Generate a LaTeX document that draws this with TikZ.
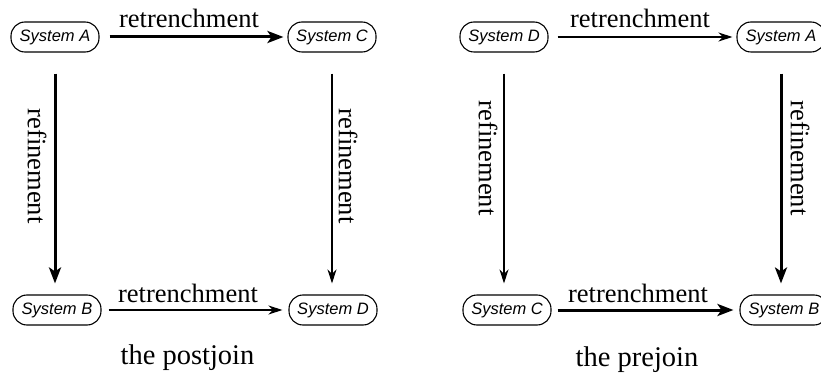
\documentclass[tikz,border=0pt]{standalone}
\usepackage{fontspec}
\setmainfont{Liberation Serif}
\setsansfont{Liberation Sans}
\usetikzlibrary{arrows.meta}
\begin{document}
\begin{tikzpicture}[x=1pt,y=-1pt,
  sysnode/.style={draw,line width=1.1pt,rounded corners=14pt,minimum width=88pt,minimum height=30pt,
    inner sep=0pt,font=\sffamily\itshape\fontsize{16.5}{16.5}\selectfont},
  bold arrow/.style={line width=3pt,-{Stealth[length=16pt,width=12pt,inset=4pt]}},
  thin arrow/.style={line width=1.2pt,-{Stealth[length=14pt,width=9pt,inset=4.5pt]}},
  down/.style={shorten <=21pt,shorten >=11pt},
  lbl/.style={font=\fontsize{26.5}{26.5}\selectfont,inner sep=0pt,anchor=base},
  vlbl/.style={font=\fontsize{26.5}{26.5}\selectfont,inner sep=0pt,rotate=-90},
  captext/.style={font=\fontsize{28.5}{28.5}\selectfont,inner sep=0pt,anchor=base}]
\useasboundingbox (0,0) rectangle (821,382);

% postjoin square
\node[sysnode] (pA) at (55,37) {System A};
\node[sysnode] (pC) at (332,37) {System C};
\node[sysnode] (pB) at (57,310) {System B};
\node[sysnode] (pD) at (333,310) {System D};
\draw[bold arrow] ([xshift=10pt]pA.east) -- ([xshift=-4pt]pC.west);
\draw[thin arrow] ([xshift=7pt]pB.east) -- ([xshift=-6pt]pD.west);
\draw[bold arrow,down] (pA.south) -- (pA.south |- pB.north);
\draw[thin arrow,down] (pC.south) -- (pC.south |- pD.north);
\node[lbl] (pt) at (189,28) {retrenchment};
\node[lbl] (pb) at (188,302) {retrenchment};
\node[vlbl] (pl) at (37,166) {refinement};
\node[vlbl] (pr) at (348,166) {refinement};
\node[captext] (pcap) at (187.5,364) {the postjoin};

% prejoin square
\node[sysnode] (qD) at (504,37) {System D};
\node[sysnode] (qA) at (781,37) {System A};
\node[sysnode] (qC) at (507,310) {System C};
\node[sysnode] (qB) at (784,310) {System B};
\draw[thin arrow] ([xshift=9pt]qD.east) -- ([xshift=-4pt]qA.west);
\draw[bold arrow] ([xshift=6pt]qC.east) -- ([xshift=-6pt]qB.west);
\draw[thin arrow,down] (qD.south) -- (qD.south |- qC.north);
\draw[bold arrow,down] (qA.south) -- (qA.south |- qB.north);
\node[lbl] (qt) at (640,28) {retrenchment};
\node[lbl] (qb) at (638,302) {retrenchment};
\node[vlbl] (ql) at (488,158) {refinement};
\node[vlbl] (qr) at (800,158) {refinement};
\node[captext] (qcap) at (637,366) {the prejoin};
\end{tikzpicture}
\end{document}
